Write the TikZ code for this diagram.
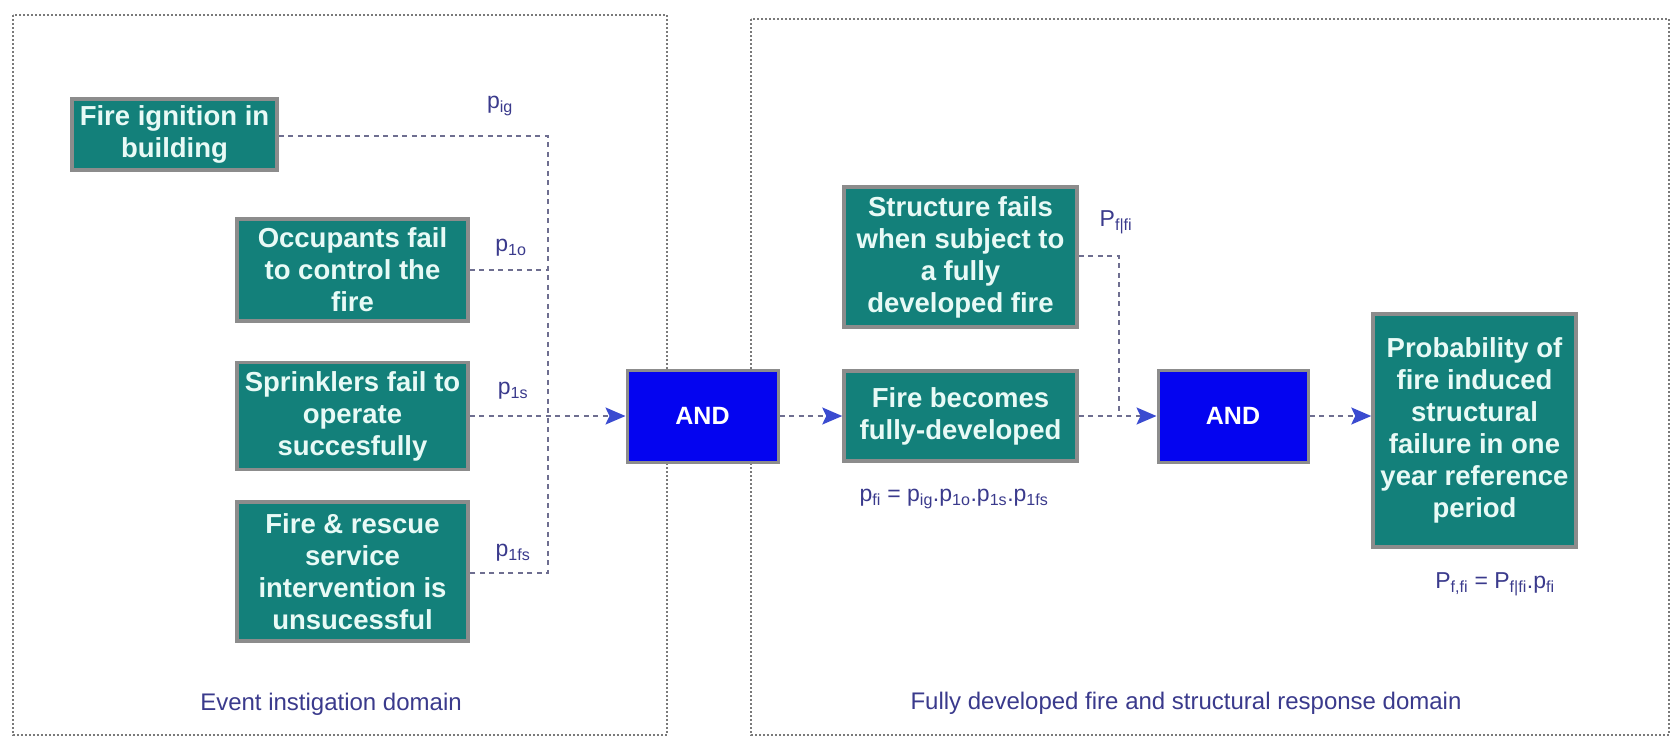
\documentclass[tikz,border=0pt]{standalone}
\usepackage{fontspec}
\setmainfont{Liberation Sans}
\usetikzlibrary{arrows.meta}

\definecolor{boxteal}{HTML}{13807A}
\definecolor{boxedge}{HTML}{8C8C8C}
\definecolor{andblue}{HTML}{0404F0}
\definecolor{boxtext}{HTML}{E8FAF6}
\definecolor{labelblue}{HTML}{3A3A8C}
\definecolor{linkgrey}{HTML}{6E6E90}
\definecolor{tipblue}{HTML}{3A4BD0}
\definecolor{framegrey}{HTML}{7A7A7A}

\tikzset{
  event/.style={draw=boxedge, line width=3.5pt, fill=boxteal, text=boxtext,
    font=\fontsize{27.5}{32}\selectfont\bfseries, align=center, inner sep=0pt},
  gate/.style={draw=boxedge, line width=3pt, fill=andblue, text=white,
    font=\fontsize{25}{28}\selectfont\bfseries, inner sep=0pt},
  link/.style={draw=linkgrey, line width=2pt, dash pattern=on 5pt off 4.5pt},
  flow/.style={link, -{Stealth[length=20pt,width=17pt,inset=4pt,color=tipblue]}},
  domainframe/.style={draw=framegrey, line width=1.6pt, dash pattern=on 1.6pt off 2.4pt},
  plabel/.style={text=labelblue, font=\fontsize{23}{26}\selectfont, inner sep=0pt},
  dlabel/.style={text=labelblue, font=\fontsize{24}{28}\selectfont, inner sep=0pt},
}

\begin{document}
\begin{tikzpicture}[x=1pt,y=-1pt]
\useasboundingbox (0,0) rectangle (1675,747);

% domain frames
\draw[domainframe] (13,15) rectangle (667,735);
\draw[domainframe] (751,19) rectangle (1669,735);

% event boxes
\node[event, minimum width=205, minimum height=71] (ign) at (174.5,134.5)
  {Fire ignition in\\building};
\node[event, minimum width=231, minimum height=102] (occ) at (352.5,270)
  {Occupants fail\\to control the\\fire};
\node[event, minimum width=231, minimum height=107] (spr) at (352.5,416)
  {Sprinklers fail to\\operate\\succesfully};
\node[event, minimum width=231, minimum height=139] (fr) at (352.5,571.5)
  {Fire \& rescue\\service\\intervention is\\unsucessful};

\node[gate, minimum width=151, minimum height=92] (and1) at (702.5,416) {AND};

\node[event, minimum width=233, minimum height=140] (sf) at (960.5,257)
  {Structure fails\\when subject to\\a fully\\developed fire};
\node[event, minimum width=233, minimum height=90] (fb) at (960.5,416)
  {Fire becomes\\fully-developed};

\node[gate, minimum width=150, minimum height=92] (and2) at (1233,416) {AND};

\node[event, minimum width=203, minimum height=233] (prob) at (1474.5,430.5)
  {Probability of\\fire induced\\structural\\failure in one\\year reference\\period};

% junction points
\coordinate (jtop) at (548,136);
\coordinate (jbot) at (548,573);
\coordinate (jr) at (1119,256);
\coordinate (jrb) at (1119,416);

% connectors, first domain
\draw[link] (ign.east |- jtop) -- (jtop) -- (jbot) -- (fr.east |- jbot);
\draw[link] (occ.east) -- (occ.east -| jtop);
\draw[flow] (spr.east) -- (and1.west);

% connectors, second domain
\draw[flow] (and1.east) -- (fb.west);
\draw[link] (sf.east |- jr) -- (jr) -- (jrb);
\draw[flow] (fb.east) -- (and2.west);
\draw[flow] (and2.east) -- (and2.east -| prob.west);

% probability labels
\node[plabel] (lig) at (500,106) {p\textsubscript{ig}};
\node[plabel] (l1o) at (511,248) {p\textsubscript{1o}};
\node[plabel] (l1s) at (513,391) {p\textsubscript{1s}};
\node[plabel] (l1fs) at (513,553) {p\textsubscript{1fs}};
\node[plabel] (lsf) at (1116,222) {P\textsubscript{f|fi}};

\node[plabel] (ffi) at (954,499)
  {p\textsubscript{fi} = p\textsubscript{ig}.p\textsubscript{1o}.p\textsubscript{1s}.p\textsubscript{1fs}};
\node[plabel] (pff) at (1495,584)
  {P\textsubscript{f,fi} = P\textsubscript{f|fi}.p\textsubscript{fi}};

% domain titles
\node[dlabel] (d1) at (331,704) {Event instigation domain};
\node[dlabel] (d2) at (1186,703) {Fully developed fire and structural response domain};
\end{tikzpicture}
\end{document}
